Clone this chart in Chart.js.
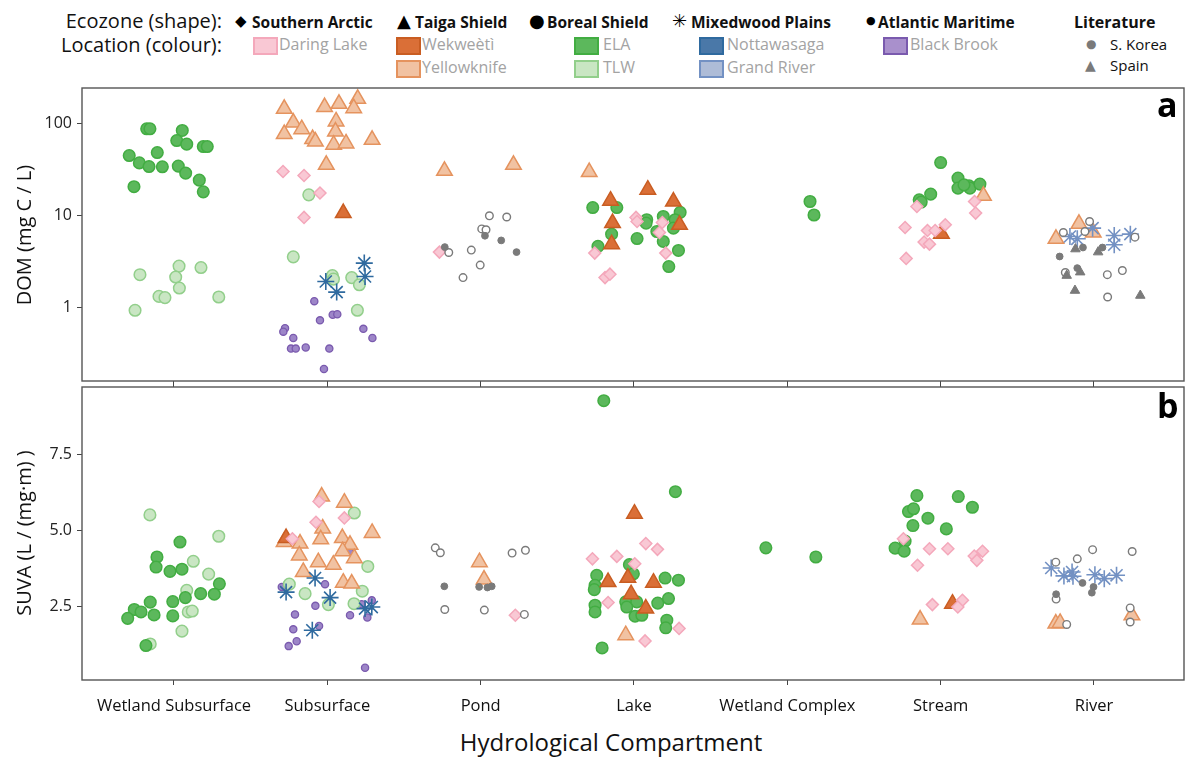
<!DOCTYPE html>
<html>
<head>
<meta charset="utf-8">
<script src="https://cdn.jsdelivr.net/npm/chart.js@4.4.1/dist/chart.umd.min.js"></script>
<style>
  html, body { margin:0; padding:0; background:#fff; }
  #wrap { position:relative; width:1185px; height:757px; overflow:hidden; font-family:"Open Sans", sans-serif; }
  .abs { position:absolute; white-space:nowrap; line-height:1.2; }
  canvas { position:absolute; left:0; }
  .hd { font-size:20px; color:#111; }
  .eco { font-size:15.5px; font-weight:700; color:#111; }
  .sym { font-family:"DejaVu Sans", sans-serif; color:#000; }
  .loc { font-size:16px; color:#a3a3a3; }
  .sw { position:absolute; width:21px; height:14px; border:2px solid; }
  .lit { font-size:15px; color:#111; }
</style>
</head>
<body>
<div id="wrap">
  <canvas id="cA" width="1185" height="305" style="top:80px;width:1185px;height:305px"></canvas>
  <canvas id="cB" width="1185" height="337" style="top:383px;width:1185px;height:337px"></canvas>
</div>
<script>
// ---------------- DATA ----------------
const compartments = ["Wetland Subsurface","Subsurface","Pond","Lake","Wetland Complex","Stream","River"];
const domTicks = [1, 10, 100];
const suvaTicks = [2.5, 5.0, 7.5];

// x = compartment position (1..7) incl. jitter, y = value
// DOM (mg C / L)
const ELA_DOM = [[0.822,88.3],[0.843,88.3],[1.054,84.6],[1.018,65.8],[1.083,60.1],[1.191,56.6],[1.217,56.6],[0.891,48.7],[0.708,45.2],[0.774,37.6],[0.837,34.3],[0.924,34.1],[1.028,34.7],[1.076,29.1],[1.165,24.4],[1.191,18.2],[0.739,20.7],
  [3.731,12.3],[3.888,12.3],[4.083,9.06],[4.079,8.33],[4.191,9.83],[4.301,10.9],[4.268,9.06],[4.149,6.75],[4.191,5.26],[3.854,6.32],[4.020,5.66],[3.765,4.65],[4.290,4.20],[4.227,2.81],[4.257,7.34],
  [5.148,14.3],[5.174,10.2],
  [6.0,37.9],[6.113,25.7],[6.113,20.0],[6.185,21.2],[6.191,20.0],[6.152,21.7],[6.256,22.1],[5.935,17.2],[5.860,14.9],[5.873,14.1]];
const TLW_DOM = [[0.778,2.29],[1.033,2.84],[1.176,2.74],[1.011,2.16],[1.035,1.64],[0.902,1.33],[0.941,1.29],[1.292,1.31],[0.746,0.94],
  [1.879,16.9],[1.778,3.58],[2.033,2.24],[2.04,2.05],[2.159,2.13],[2.209,1.78],[2.196,0.94]];
const YK_DOM = [[1.719,145.5],[1.982,152],[2.076,165],[2.198,187],[2.172,148],[1.778,103],[1.833,87.5],[2.057,106],[1.719,77.3],[1.904,68.2],[1.922,64.2],[2.053,82.4],[2.041,59.2],[2.122,61.1],[2.292,67],[1.993,35.8],
  [2.764,30.8],[3.214,35.8],[3.708,29.9],[6.279,16.5],[6.752,5.62],[6.902,8.18],[6.995,6.58]];
const WK_DOM = [[2.104,10.7],[3.847,14.6],[4.090,19.2],[4.257,14.3],[3.860,8.33],[4.297,7.98],[3.854,4.92],[6.005,6.37]];
const DL_DOM = [[1.711,30.3],[1.848,27.4],[1.952,17.7],[1.848,9.6],[2.731,4.03],[4.013,9.6],[4.020,8.67],[4.185,8.45],[4.166,6.58],[3.744,3.93],[4.207,3.93],[3.811,2.13],[3.843,2.32],
  [5.845,12.6],[6.221,14.3],[6.228,10.7],[5.768,7.46],[5.914,6.92],[5.964,6.92],[6.030,7.98],[5.892,5.18],[5.927,4.92],[5.775,3.44]];
const NOT_DOM = [[2.241,3.06],[2.246,2.19],[1.990,1.93],[2.061,1.48]];
const GR_DOM = [[6.843,5.96],[6.891,5.62],[6.991,7.34],[7.132,6.11],[7.132,4.84],[7.237,6.32]];
const BB_DOM = [[1.915,1.18],[1.952,0.73],[2.035,0.84],[2.065,0.85],[1.724,0.60],[1.713,0.55],[1.778,0.47],[1.763,0.36],[1.794,0.36],[1.859,0.37],[2.013,0.36],[2.235,0.59],[2.294,0.47],[1.978,0.216]];
const KOR_DOM = [[2.766,4.57],[3.028,6.07],[3.134,5.40],[3.234,4.03],[6.776,3.61],[6.928,4.52],[7.055,4.52],[6.891,2.70]];
const OPEN_DOM = [[3.057,10.0],[3.170,9.7],[3.007,7.2],[3.035,7.05],[2.792,3.99],[2.939,4.24],[2.997,2.91],[2.885,2.13],[6.800,6.58],[6.941,6.75],[6.971,8.67],[7.267,5.86],[6.813,2.42],[7.087,2.29],[7.185,2.54],[7.089,1.31]];
const SPAIN_DOM = [[6.879,4.35],[7.027,4.03],[6.822,2.24],[6.910,2.44],[6.876,1.54],[7.302,1.36]];

// SUVA (L / (mg·m))
const ELA_SUVA = [[1.039,4.62],[0.889,4.13],[0.883,3.80],[0.974,3.66],[1.052,3.73],[1.296,3.25],[1.174,2.93],[1.263,2.91],[1.074,2.80],[0.992,2.67],[0.845,2.65],[0.741,2.41],[0.785,2.33],[0.870,2.23],[0.992,2.20],[0.698,2.12],[0.817,1.23],
  [3.803,9.25],[4.270,6.27],[3.757,3.53],[3.746,3.20],[3.741,3.06],[4.203,3.44],[4.290,3.37],[3.970,3.88],[3.996,3.58],[3.946,2.66],[4.018,2.66],[3.953,2.49],[4.155,2.62],[4.225,2.77],[3.746,2.55],[3.746,2.33],[4.007,2.19],[4.051,2.22],[4.214,2.06],[4.207,1.81],[3.792,1.15],
  [4.860,4.43],[5.186,4.13],
  [5.845,6.14],[6.115,6.11],[6.207,5.76],[5.790,5.62],[5.823,5.71],[5.917,5.40],[5.819,5.16],[6.037,5.05],[5.768,4.65],[5.703,4.42],[5.762,4.32]];
const TLW_SUVA = [[0.843,5.51],[1.292,4.81],[1.126,3.99],[1.226,3.57],[1.083,3.04],[1.093,2.33],[1.119,2.36],[1.052,1.70],[0.845,1.28],
  [2.176,5.57],[2.264,3.82],[1.752,3.24],[1.855,2.93],[2.007,2.57],[2.228,3.01],[2.174,2.60]];
const YK_SUVA = [[1.963,6.11],[2.111,5.91],[1.970,5.06],[2.292,4.92],[1.822,4.57],[1.957,4.71],[2.098,4.75],[2.148,4.53],[1.718,4.62],[1.817,4.18],[1.941,3.96],[2.039,3.88],[2.100,4.32],[2.176,4.09],[1.843,3.64],[2.104,3.29],[2.159,3.26],
  [2.992,3.96],[3.022,3.39],[3.946,1.57],[5.866,2.08],[6.751,1.95],[6.779,1.97],[7.247,2.22]];
const WK_SUVA = [[1.731,4.75],[4.003,5.55],[3.831,3.31],[3.960,3.45],[4.127,3.29],[3.981,2.91],[4.077,2.44],[6.077,2.60]];
const DL_SUVA = [[1.946,5.95],[1.926,5.27],[2.111,5.41],[1.772,4.73],[3.226,2.22],[3.729,4.07],[3.888,4.15],[4.077,4.57],[4.153,4.38],[4.005,3.91],[3.831,2.64],[4.294,1.79],[4.072,1.38],
  [5.757,4.73],[5.927,4.40],[6.047,4.40],[5.849,3.86],[6.219,4.16],[6.236,4.02],[6.273,4.32],[5.946,2.57],[6.142,2.71],[6.112,2.49]];
const NOT_SUVA = [[1.920,3.44],[1.731,2.98],[2.018,2.80],[2.246,2.44],[2.290,2.49],[1.902,1.73]];
const GR_SUVA = [[6.721,3.77],[6.804,3.51],[6.857,3.64],[6.863,3.50],[7.006,3.55],[7.067,3.42],[7.147,3.53]];
const BB_SUVA = [[2.144,4.31],[1.703,3.15],[1.985,3.24],[1.922,2.53],[2.224,2.58],[2.290,2.71],[2.148,2.22],[2.261,2.15],[1.789,2.25],[1.946,1.87],[1.778,1.76],[1.800,1.37],[1.748,1.21],[2.246,0.50]];
const KOR_SUVA = [[2.763,3.17],[2.990,3.15],[3.044,3.13],[3.072,3.17],[6.925,3.28],[6.997,3.15],[6.986,2.96],[6.753,2.91]];
const OPEN_SUVA = [[2.704,4.43],[2.737,4.27],[3.205,4.26],[3.292,4.35],[2.766,2.41],[3.024,2.39],[3.285,2.25],[6.751,3.96],[6.891,4.07],[6.991,4.37],[7.249,4.31],[6.753,2.75],[6.822,1.92],[7.236,2.46],[7.236,2.00]];
const SPAIN_SUVA = [];

// ---------------- STYLES ----------------
const FONT = '"Open Sans", sans-serif';
const styles = {
  SPAIN: {pointStyle:'triangle', radius:5.5, bg:'#7a7a7a', bc:'#7a7a7a', bw:1},
  KOR:   {pointStyle:'circle', radius:3.4, bg:'#7a7a7a', bc:'#7a7a7a', bw:1},
  OPEN:  {pointStyle:'circle', radius:3.8, bg:'#ffffff', bc:'#7a7a7a', bw:1.4},
  GR:    {pointStyle:'star', radius:8.5, bg:'#7391c3', bc:'#7391c3', bw:1.6},
  NOT:   {pointStyle:'star', radius:8.5, bg:'#2f6a9f', bc:'#2f6a9f', bw:1.6},
  DL:    {pointStyle:'rectRot', radius:6, bg:'#f9c8d4', bc:'#f4a8bb', bw:1.5},
  WK:    {pointStyle:'triangle', radius:9, bg:'#da6f37', bc:'#c95d22', bw:1.5},
  YK:    {pointStyle:'triangle', radius:9, bg:'#f1c2a2', bc:'#e5935e', bw:1.5},
  ELA:   {pointStyle:'circle', radius:5.8, bg:'#5cb85c', bc:'#42ad42', bw:1.5},
  TLW:   {pointStyle:'circle', radius:5.8, bg:'#c9e6c3', bc:'#92cf8b', bw:1.5},
  BB:    {pointStyle:'circle', radius:3.6, bg:'#9d86c8', bc:'#7a5aae', bw:1.3}
};
const order = ['SPAIN','KOR','OPEN','GR','NOT','DL','WK','YK','ELA','TLW','BB'];

function mk(key, arr, i){
  const s = styles[key];
  return { label:key, data: arr.map(p => ({x:p[0], y:p[1]})),
    pointStyle:s.pointStyle, pointRadius:s.radius, pointBackgroundColor:s.bg,
    pointBorderColor:s.bc, pointBorderWidth:s.bw, showLine:false, order:i };
}
const domSets = {SPAIN:SPAIN_DOM,KOR:KOR_DOM,OPEN:OPEN_DOM,GR:GR_DOM,NOT:NOT_DOM,DL:DL_DOM,WK:WK_DOM,YK:YK_DOM,ELA:ELA_DOM,TLW:TLW_DOM,BB:BB_DOM};
const suvaSets = {SPAIN:SPAIN_SUVA,KOR:KOR_SUVA,OPEN:OPEN_SUVA,GR:GR_SUVA,NOT:NOT_SUVA,DL:DL_SUVA,WK:WK_SUVA,YK:YK_SUVA,ELA:ELA_SUVA,TLW:TLW_SUVA,BB:BB_SUVA};

const XMIN = 0.4, XMAX = 7.587;
const frame = { id:'frame', afterDraw(chart){
  const a = chart.chartArea, c = chart.ctx;
  c.save(); c.strokeStyle = '#555'; c.lineWidth = 1.4;
  c.strokeRect(a.left, a.top, a.right - a.left, a.bottom - a.top); c.restore();
}};
const catTicks = s => { s.ticks = compartments.map((c,i) => ({value:i+1})); };
const tickGrid = {display:true, drawOnChartArea:false, drawTicks:true, tickLength:5, color:'#444', lineWidth:1};
function fixSize(prop, val){
  return s => { s[prop] = val; s.paddingTop = 0; s.paddingBottom = 0; s.paddingLeft = 0; s.paddingRight = 0; };
}
const yTickFont = {family:FONT, size:16};

new Chart(document.getElementById('cA'), {
  type:'scatter',
  data:{ datasets: order.map((k,i) => mk(k, domSets[k], i)) },
  options:{
    responsive:false, animation:false, devicePixelRatio:1,
    layout:{autoPadding:false, padding:{top:8, right:1, left:0, bottom:0}},
    plugins:{legend:{display:false}, tooltip:{enabled:false}},
    scales:{
      x:{type:'linear', min:XMIN, max:XMAX, position:'bottom', afterBuildTicks:catTicks,
         ticks:{display:false}, grid:tickGrid, border:{display:false}, afterFit:fixSize('height', 4)},
      y:{type:'logarithmic', min:0.16, max:245,
         afterBuildTicks:s => { s.ticks = domTicks.map(v => ({value:v})); },
         ticks:{callback:v => String(v), font:yTickFont, color:'#222', padding:5},
         grid:tickGrid, border:{display:false}, afterFit:fixSize('width', 82)}
    }
  },
  plugins:[frame]
});

new Chart(document.getElementById('cB'), {
  type:'scatter',
  data:{ datasets: order.map((k,i) => mk(k, suvaSets[k], i)) },
  options:{
    responsive:false, animation:false, devicePixelRatio:1,
    layout:{autoPadding:false, padding:{top:0, right:1, left:0, bottom:0}},
    plugins:{legend:{display:false}, tooltip:{enabled:false}},
    scales:{
      x:{type:'linear', min:XMIN, max:XMAX, position:'bottom', afterBuildTicks:catTicks,
         ticks:{callback:v => compartments[Math.round(v)-1] || '', font:{family:FONT, size:16.5}, color:'#111', padding:11, maxRotation:0, autoSkip:false},
         grid:tickGrid, border:{display:false}, afterFit:fixSize('height', 40)},
      xTop:{type:'linear', min:XMIN, max:XMAX, position:'top', afterBuildTicks:catTicks,
         ticks:{display:false}, grid:tickGrid, border:{display:false}, afterFit:fixSize('height', 4)},
      y:{type:'linear', min:0.1, max:9.7,
         afterBuildTicks:s => { s.ticks = suvaTicks.map(v => ({value:v})); },
         ticks:{callback:v => v.toFixed(1), font:yTickFont, color:'#222', padding:5},
         grid:tickGrid, border:{display:false}, afterFit:fixSize('width', 82)}
    }
  },
  plugins:[frame]
});

// ---------------- TEXT / LEGEND ----------------
const wrap = document.getElementById('wrap');
function txt(t, x, y, cls, extra){
  const d = document.createElement('div'); d.className = 'abs ' + (cls||''); d.textContent = t;
  d.style.left = x + 'px'; d.style.top = y + 'px'; if (extra) Object.assign(d.style, extra);
  wrap.appendChild(d); return d;
}
function sw(x, y, fill, border){
  const d = document.createElement('div'); d.className = 'sw';
  d.style.left = x + 'px'; d.style.top = y + 'px'; d.style.background = fill; d.style.borderColor = border;
  wrap.appendChild(d);
}
// headers
txt('Ecozone (shape):', 0, 9, 'hd', {width:'222px', textAlign:'right'});
txt('Location (colour):', 0, 33, 'hd', {width:'222px', textAlign:'right'});
// ecozones (symbol + bold label)
txt('\u25C6', 235, 12, 'sym', {fontSize:'15px'});
txt('Southern Arctic', 252, 13, 'eco');
txt('\u25B2', 397, 10, 'sym', {fontSize:'18px'});
txt('Taiga Shield', 415, 13, 'eco');
txt('\u25CF', 529, 10, 'sym', {fontSize:'18px'});
txt('Boreal Shield', 547, 13, 'eco');
txt('\u2733', 672, 10, 'sym', {fontSize:'18px'});
txt('Mixedwood Plains', 691, 13, 'eco');
txt('\u25CF', 866, 14, 'sym', {fontSize:'11px'});
txt('Atlantic Maritime', 878, 13, 'eco');
txt('Literature', 1074, 13, 'eco', {fontSize:'16px'});
// locations
sw(253, 37, '#f9c8d4', '#f4a8bb'); txt('Daring Lake', 279, 35, 'loc');
sw(396, 37, '#da6f37', '#c95d22'); txt('Wekwe\u00e8t\u00ec', 422, 35, 'loc');
sw(396, 60, '#f1c2a2', '#e5935e'); txt('Yellowknife', 422, 58, 'loc');
sw(574, 37, '#5cb85c', '#42ad42'); txt('ELA', 603, 35, 'loc');
sw(574, 60, '#c9e6c3', '#92cf8b'); txt('TLW', 603, 58, 'loc');
sw(699, 37, '#4a78a8', '#2f6a9f'); txt('Nottawasaga', 727, 35, 'loc');
sw(699, 60, '#aebcd7', '#7391c3'); txt('Grand River', 727, 58, 'loc');
sw(883, 37, '#a990cc', '#7a5aae'); txt('Black Brook', 910, 35, 'loc');
// literature
txt('\u25CF', 1086, 37, 'sym', {color:'#7a7a7a', fontSize:'12px'});
txt('S. Korea', 1110, 35, 'lit');
txt('\u25B2', 1085, 57, 'sym', {color:'#7a7a7a', fontSize:'14px'});
txt('Spain', 1110, 56, 'lit');
// panel letters
txt('a', 1157, 84, '', {fontSize:'34px', fontWeight:'700', color:'#000'});
txt('b', 1157, 385, '', {fontSize:'34px', fontWeight:'700', color:'#000'});
// axis titles
txt('DOM (mg C / L)', 24, 235, '', {fontSize:'20px', color:'#111', transform:'translate(-50%,-50%) rotate(-90deg)'});
txt('SUVA (L / (mg\u00b7m) )', 24, 533, '', {fontSize:'20px', color:'#111', transform:'translate(-50%,-50%) rotate(-90deg)'});
txt('Hydrological Compartment', 611, 742, '', {fontSize:'24px', color:'#111', transform:'translate(-50%,-50%)'});
</script>
</body>
</html>
